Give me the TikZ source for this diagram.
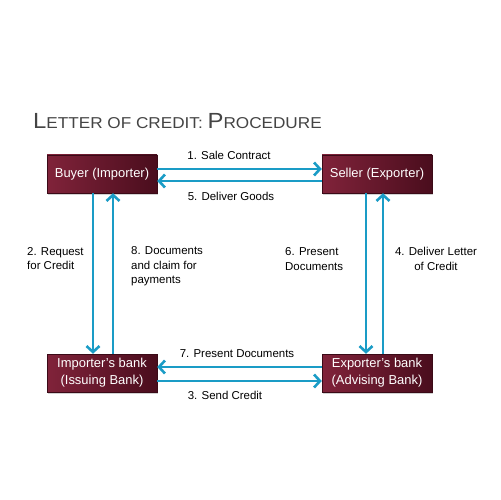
\documentclass[tikz,border=0pt]{standalone}
\usepackage{fontspec}
\usepackage{graphicx}
\setmainfont{Liberation Sans}
\usetikzlibrary{arrows.meta,shadows}
\definecolor{arr}{HTML}{1A9CC6}
\definecolor{boxl}{HTML}{80233A}
\definecolor{boxr}{HTML}{4A0D1D}
\definecolor{ttl}{HTML}{444444}
\begin{document}
\begin{tikzpicture}[x=1bp,y=-1bp,
  box/.style={shade, shading angle=90, left color=boxl, right color=boxr,
    draw=boxr!80!black, line width=0.4bp, minimum width=110bp, minimum height=38bp,
    inner sep=0pt, text=white, align=center,
    font=\fontsize{13}{17}\selectfont,
    drop shadow={shadow xshift=1bp, shadow yshift=-1.5bp, opacity=0.35}},
  flow/.style={draw=arr, line width=2.6bp, -{Straight Barb[length=6bp,width=13bp,line width=2.6bp]}},
  lbl/.style={font=\fontsize{11.5}{14.5}\selectfont, text=black, inner sep=0pt}]
\useasboundingbox[fill=white] (0,0) rectangle (500,500);
\node[anchor=base west, text=ttl, inner sep=0pt] (title) at (33,129)
  {\scalebox{1.09}[1]{{\fontsize{22}{26}\selectfont L}{\fontsize{15.8}{19}\selectfont ETTER OF CREDIT: }{\fontsize{22}{26}\selectfont P}{\fontsize{15.8}{19}\selectfont ROCEDURE}}};
\node[box] (buyer) at (102,174) {Buyer (Importer)};
\node[box] (seller) at (377,174) {Seller (Exporter)};
\node[box] (ibank) at (102,373) {Importer’s bank\\(Issuing Bank)};
\node[box] (ebank) at (377,373) {Exporter’s bank\\(Advising Bank)};
% horizontal flows
\draw[flow] ([yshift=5bp]buyer.east) -- ([yshift=5bp]seller.west);
\draw[flow] ([yshift=-7bp]seller.west) -- ([yshift=-7bp]buyer.east);
\draw[flow] ([yshift=6bp]ebank.west) -- ([yshift=6bp]ibank.east);
\draw[flow] ([yshift=-8bp]ibank.east) -- ([yshift=-8bp]ebank.west);
% vertical flows
\draw[flow] ([xshift=-9bp]buyer.south) -- ([xshift=-9bp]ibank.north);
\draw[flow] ([xshift=11bp]ibank.north) -- ([xshift=11bp]buyer.south);
\draw[flow] ([xshift=-11bp]seller.south) -- ([xshift=-11bp]ebank.north);
\draw[flow] ([xshift=6bp]ebank.north) -- ([xshift=6bp]seller.south);
% labels
\node[lbl] (l1) at (229,155) {1. Sale Contract};
\node[lbl] (l5) at (231,196) {5. Deliver Goods};
\node[lbl] (l7) at (237,354) {7. Present Documents};
\node[lbl] (l3) at (225,395) {3. Send Credit};
\node[lbl, anchor=west, align=left] (l2) at (27,258.5) {2. Request\\for Credit};
\node[lbl, anchor=west, align=left] (l8) at (131,266.5) {8. Documents\\and claim for\\payments};
\node[lbl, anchor=west, align=left] (l6) at (285,259) {6. Present\\Documents};
\node[lbl, align=center] (l4) at (436,259) {4. Deliver Letter\\of Credit};
\end{tikzpicture}
\end{document}
